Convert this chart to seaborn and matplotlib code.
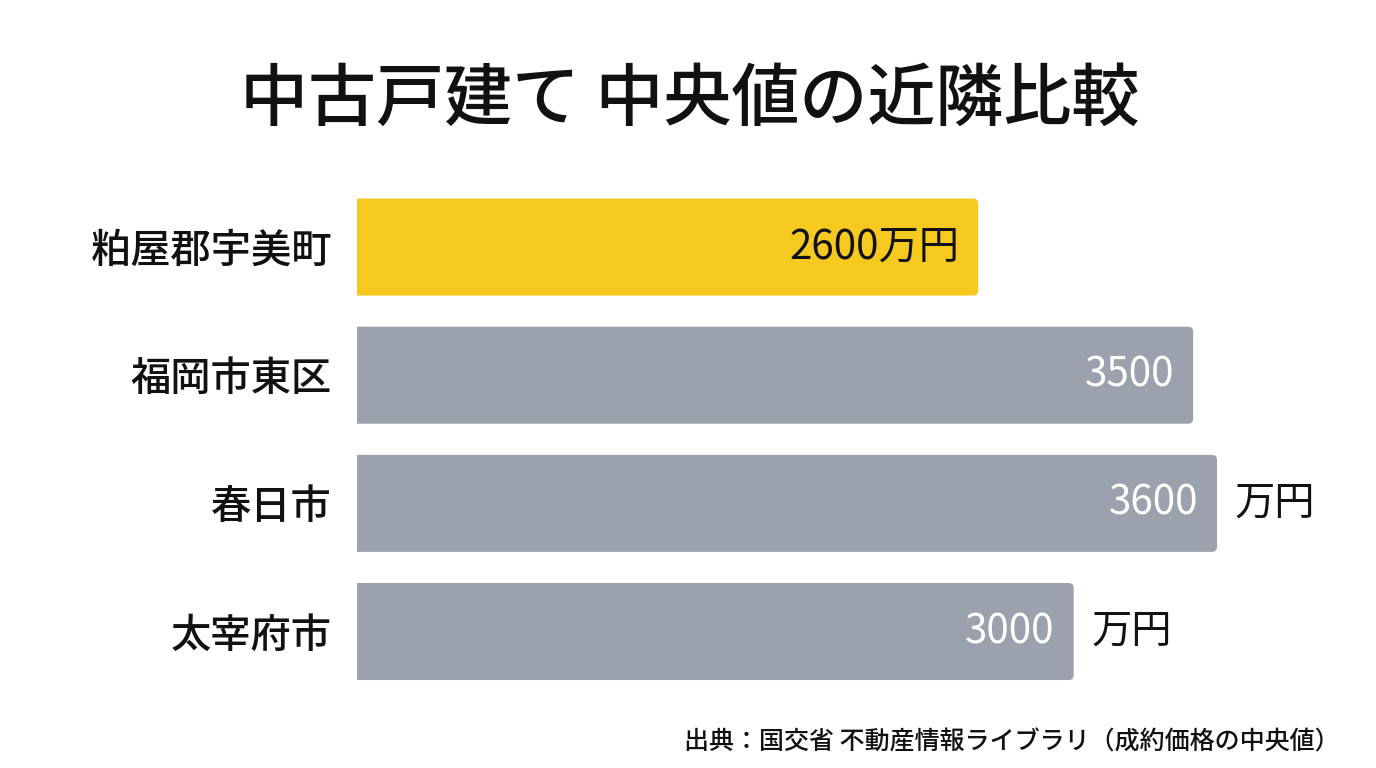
import matplotlib
matplotlib.use("Agg")
import matplotlib.pyplot as plt
from matplotlib.patches import FancyBboxPatch
import seaborn as sns
import pandas as pd

# ---- data ----
areas = ["粕屋郡宇美町", "福岡市東区", "春日市", "太宰府市"]
values = [2600, 3500, 3600, 3000]
value_labels = ["2600万円", "3500", "3600", "3000"]
outside_labels = ["", "", "万円", "万円"]
colors = ["#F5C920", "#9BA2AE", "#9BA2AE", "#9BA2AE"]
title = "中古戸建て 中央値の近隣比較"
source = "出典：国交省 不動産情報ライブラリ（成約価格の中央値）"

sns.set_theme(style="white")
plt.rcParams["font.family"] = ["Noto Sans CJK JP", "DejaVu Sans"]

df = pd.DataFrame({"area": areas, "value": values})

fig = plt.figure(figsize=(13.76, 7.68), dpi=100)
fig.patch.set_facecolor("white")
ax = fig.add_axes([357 / 1376, 1 - 695.6 / 768, 1019 / 1376, (695.6 - 183) / 768])

sns.barplot(data=df, y="area", x="value", hue="area", palette=colors,
            orient="h", width=0.757, legend=False, ax=ax, saturation=1)

ax.set_xlim(0, 1019 / 0.2389)
ax.set_ylim(3.5, -0.5)

# rounded corners (left side extended past axis and clipped -> square)
px_x = 1 / 0.2389
px_y = 1 / 128.2
r = 5
for p in list(ax.patches):
    x0, y0 = p.get_x(), p.get_y()
    w, h = p.get_width(), p.get_height()
    fc = p.get_facecolor()
    p.remove()
    fb = FancyBboxPatch((x0 - 20 * px_x, y0), w + 20 * px_x, h,
                        boxstyle=f"round,pad=0,rounding_size={r * px_x}",
                        mutation_aspect=px_y / px_x,
                        facecolor=fc, edgecolor="none", clip_on=True)
    ax.add_patch(fb)

for i, (v, lab, out) in enumerate(zip(values, value_labels, outside_labels)):
    col = "#111111" if i == 0 else "white"
    ax.annotate(lab, xy=(v, i), xytext=(-19, 0), textcoords="offset pixels",
                ha="right", va="center", fontsize=29, color=col,
                fontweight="normal")
    if out:
        ax.annotate(out, xy=(v, i), xytext=(18, 0), textcoords="offset pixels",
                    ha="left", va="center", fontsize=29, color="#111111",
                    fontweight="normal")

for s in ax.spines.values():
    s.set_visible(False)
ax.set_xticks([])
ax.set_xlabel("")
ax.set_ylabel("")
ax.tick_params(axis="y", length=0, pad=18, labelsize=29, labelcolor="#111111")
for t in ax.get_yticklabels():
    t.set_fontweight("medium")

fig.text(690 / 1376, 1 - 100 / 768, title, ha="center", va="center",
         fontsize=49, color="#111111", fontweight="medium")
fig.text(1340 / 1376, 1 - 743 / 768, source, ha="right", va="center",
         fontsize=18, color="#111111", fontweight="medium")

fig.savefig("out.png", dpi=100, facecolor="white")
